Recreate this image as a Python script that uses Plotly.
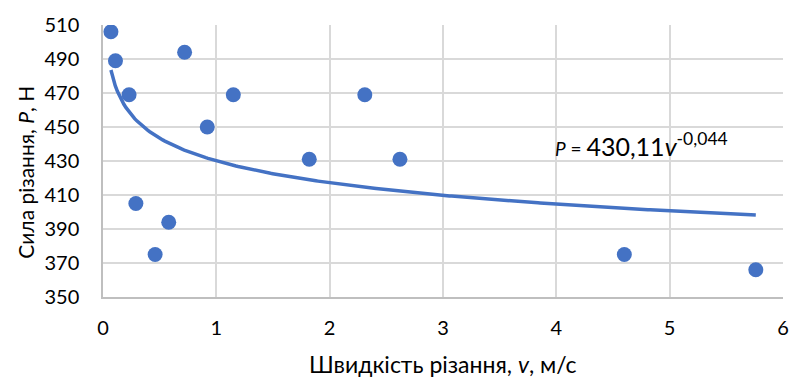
import numpy as np
import plotly.graph_objects as go

# Data
speed = [0.07, 0.11, 0.23, 0.29, 0.46, 0.58, 0.72, 0.92, 1.15, 1.82, 2.31, 2.62, 4.60, 5.76]
force = [506, 489, 469, 405, 375, 394, 494, 450, 469, 431, 469, 431, 375, 366]

# Power trendline as shown on the chart: P = 430.11 * v^-0.044
coef_a = 430.11
coef_b = -0.044
trend_x = np.linspace(min(speed), max(speed), 300)
trend_y = coef_a * trend_x ** coef_b

x_ticks = [0, 1, 2, 3, 4, 5, 6]
y_ticks = [350, 370, 390, 410, 430, 450, 470, 490, 510]

blue = "#4472C4"
font_family = "Lato, 'Open Sans', sans-serif"

# plot-area geometry (pixels)
M_L, M_R, M_T, M_B = 103, 9, 25, 83
W, H = 798, 380
plot_w = W - M_L - M_R
plot_h = H - M_T - M_B


def px_to_paper(px, py):
    return (px - M_L) / plot_w, (H - py - M_B) / plot_h


fig = go.Figure()
fig.add_trace(go.Scatter(x=trend_x, y=trend_y, mode="lines",
                         line=dict(color=blue, width=3.5), hoverinfo="skip"))
fig.add_trace(go.Scatter(x=speed, y=force, mode="markers",
                         marker=dict(color=blue, size=15)))

fig.add_annotation(x=4.75, y=440, xref="x", yref="y", showarrow=False,
                   xanchor="center", yanchor="middle",
                   text="<i>P</i> = <span style='font-size:25px'>430,11<i>v</i><sup>-0,044</sup></span>",
                   font=dict(family=font_family, size=19, color="#000000"))

# Axis titles
tx, ty = px_to_paper(446, 364)
fig.add_annotation(x=tx, y=ty, xref="paper", yref="paper", showarrow=False,
                   xanchor="center", yanchor="middle",
                   text="Швидкість різання, <i>v</i>, м/с",
                   font=dict(family=font_family, size=23, color="#000000"))
tx, ty = px_to_paper(24, 172)
fig.add_annotation(x=tx, y=ty, xref="paper", yref="paper", showarrow=False,
                   xanchor="center", yanchor="middle",
                   text="Сила різання, <i>P</i>, Н", textangle=-90,
                   font=dict(family=font_family, size=21, color="#000000"))

fig.update_layout(
    width=W, height=H,
    margin=dict(l=M_L, r=M_R, t=M_T, b=M_B),
    paper_bgcolor="white", plot_bgcolor="white",
    showlegend=False,
    font=dict(family=font_family, size=20, color="#000000"),
)

fig.update_xaxes(range=[0, 6], tickvals=x_ticks, showgrid=True, gridcolor="#d9d9d9",
                 gridwidth=1.5, zeroline=False, showline=True, linecolor="#bfbfbf", linewidth=1.5,
                 ticks="", ticklabelstandoff=12)
fig.update_yaxes(range=[350, 510], tickvals=y_ticks, showgrid=True, gridcolor="#d9d9d9",
                 gridwidth=1.5, zeroline=False, showline=True, linecolor="#bfbfbf", linewidth=1.5,
                 ticks="", ticklabelstandoff=18)

fig.write_html("out.html")
